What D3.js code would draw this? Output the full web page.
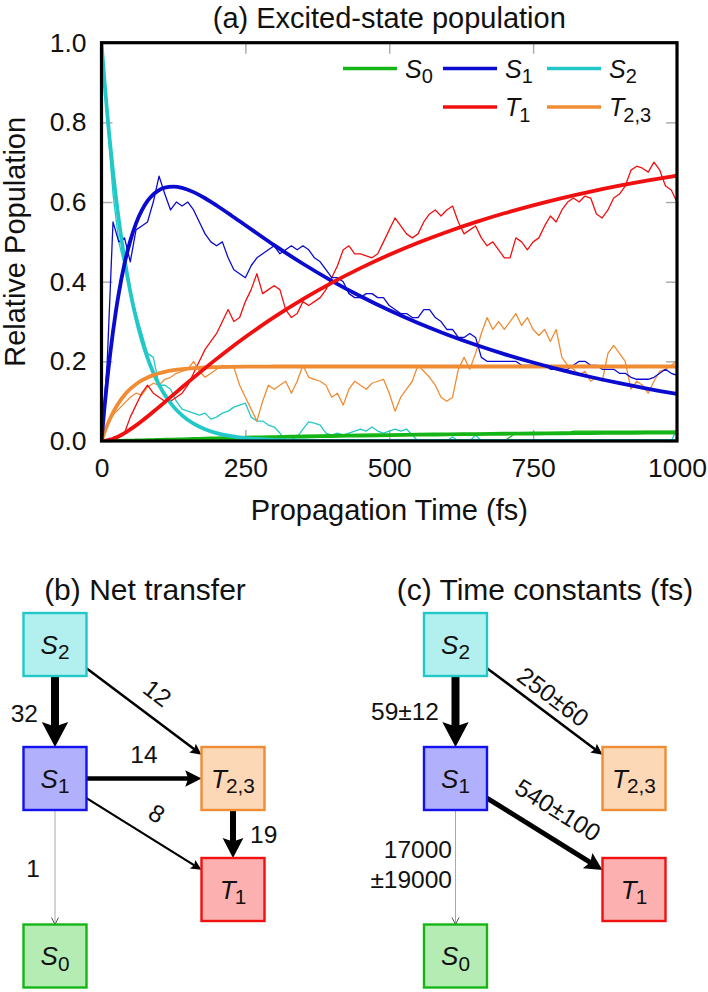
<!DOCTYPE html>
<html><head><meta charset="utf-8">
<script src="https://cdn.jsdelivr.net/npm/d3@7"></script>
<style>body{margin:0;background:#fff}svg{display:block}</style>
</head><body>
<svg id="c" width="708" height="992"></svg>
<script>
// ---------------- DATA ----------------
const xTicks = [0, 250, 500, 750, 1000];
const yTicks = [0, 0.2, 0.4, 0.6, 0.8, 1.0];
const yTickLabels = ["0.0", "0.2", "0.4", "0.6", "0.8", "1.0"];

const stateIds  = ["S0", "S1", "S2", "T1", "T23"];
const stateBase = ["S", "S", "S", "T", "T"];
const stateSub  = ["0", "1", "2", "1", "2,3"];

// raw (trajectory-averaged) populations, sampled every 10 fs
const tRaw = [0,10,20,30,40,50,60,70,80,90,100,110,120,130,140,150,160,170,180,190,200,210,220,230,240,250,260,270,280,290,300,310,320,330,340,350,360,370,380,390,400,410,420,430,440,450,460,470,480,490,500,510,520,530,540,550,560,570,580,590,600,610,620,630,640,650,660,670,680,690,700,710,720,730,740,750,760,770,780,790,800,810,820,830,840,850,860,870,880,890,900,910,920,930,940,950,960,970,980,990,1000];
const rawS0 = [0,0,0,0,0,0,0,0,0,0, 0,0,0,0,0,0,0,0,0,0, 0,0,0,0,0,0,0,0,0,0, 0,0,0,0,0,0,0,0,0,0, 0,0,0,0,0,0,0,0,0,0, 0,0,0,0,0,0,0,0,0,0, 0,0,0,0,0,0,0,0,0,0, 0,0.01,0.02,0.02,0.02,0.02,0.02,0.02,0.02,0.02, 0.02,0.02,0.025,0.025,0.025,0.025,0.025,0.025,0.025,0.025, 0.025,0.025,0.025,0.025,0.025,0.025,0.025,0.025,0.025,0.025, 0.025];
const rawS1 = [0.00,0.20,0.55,0.50,0.51,0.45,0.53,0.54,0.55,0.60,
 0.665,0.62,0.58,0.60,0.59,0.60,0.58,0.55,0.52,0.50,
 0.49,0.50,0.46,0.43,0.42,0.41,0.44,0.46,0.47,0.48,
 0.49,0.47,0.48,0.49,0.48,0.49,0.48,0.46,0.45,0.43,
 0.41,0.41,0.40,0.37,0.36,0.36,0.37,0.37,0.36,0.36,
 0.34,0.33,0.32,0.32,0.31,0.31,0.33,0.33,0.31,0.30,
 0.28,0.28,0.26,0.26,0.27,0.26,0.21,0.20,0.20,0.20,
 0.20,0.20,0.20,0.19,0.19,0.19,0.19,0.19,0.18,0.18,
 0.18,0.18,0.19,0.20,0.20,0.19,0.19,0.18,0.18,0.18,
 0.17,0.17,0.16,0.155,0.155,0.155,0.16,0.17,0.18,0.17,
 0.165];
const rawS2 = [1.0,0.80,0.62,0.50,0.44,0.38,0.32,0.27,0.22,0.21,
 0.14,0.14,0.13,0.10,0.08,0.075,0.07,0.065,0.07,0.055,
 0.06,0.07,0.075,0.085,0.09,0.095,0.06,0.05,0.05,0.04,
 0.035,0.02,0.0,0.005,0.01,0.03,0.048,0.045,0.04,0.02,
 0.015,0.02,0.015,0.02,0.025,0.03,0.025,0.035,0.025,0.02,
 0.025,0.03,0.025,0.03,0.015,0.0,0,0,0,0,
 0,0.01,0,0,0,0.015,0,0,0,0,
 0,0,0,0,0,0,0,0,0,0,
 0,0,0,0,0,0,0,0,0,0,
 0,0,0,0,0,0,0,0,0,0,
 0.03];
const rawT1 = [0,0,0,0.01,0.02,0.06,0.09,0.12,0.14,0.12,
 0.11,0.10,0.10,0.11,0.12,0.14,0.17,0.20,0.23,0.25,
 0.27,0.30,0.33,0.30,0.31,0.35,0.38,0.42,0.37,0.38,
 0.39,0.38,0.33,0.31,0.32,0.35,0.34,0.35,0.36,0.38,
 0.41,0.44,0.48,0.49,0.47,0.47,0.465,0.46,0.47,0.50,
 0.53,0.56,0.54,0.52,0.51,0.52,0.55,0.57,0.58,0.565,
 0.58,0.59,0.55,0.52,0.53,0.54,0.51,0.49,0.50,0.48,
 0.46,0.46,0.51,0.50,0.48,0.50,0.51,0.54,0.565,0.55,
 0.58,0.60,0.61,0.60,0.615,0.61,0.57,0.56,0.58,0.61,
 0.62,0.64,0.68,0.69,0.685,0.675,0.70,0.68,0.64,0.63,
 0.60];
const rawT23 = [0,0.04,0.065,0.08,0.095,0.11,0.12,0.115,0.135,0.145,
 0.14,0.155,0.16,0.17,0.175,0.18,0.20,0.175,0.16,0.17,
 0.18,0.19,0.185,0.185,0.14,0.11,0.08,0.05,0.10,0.14,
 0.13,0.14,0.15,0.12,0.15,0.19,0.16,0.155,0.15,0.14,
 0.11,0.12,0.09,0.13,0.15,0.14,0.13,0.145,0.15,0.155,
 0.12,0.075,0.11,0.13,0.15,0.19,0.175,0.16,0.14,0.11,
 0.10,0.11,0.18,0.21,0.18,0.22,0.27,0.31,0.28,0.30,
 0.28,0.30,0.32,0.29,0.31,0.28,0.265,0.28,0.25,0.28,
 0.21,0.19,0.18,0.165,0.175,0.15,0.16,0.15,0.22,0.24,
 0.22,0.20,0.13,0.15,0.14,0.12,0.15,0.175,0.18,0.19,
 0.20];

// kinetic-model fits
const tFit = [0,5,10,15,20,25,30,40,50,60,70,80,90,100,110,125,140,160,180,200,225,250,275,300,350,400,450,500,550,600,650,700,750,800,850,900,950,1000];
const fitS0 = [0,0,0,0.0001,0.0002,0.0003,0.0004,0.0006,0.0009,0.0012,0.0016,0.0020,0.0023,0.0027,0.0031,0.0037,0.0043,0.0051,0.0058,0.0066,0.0074,0.0083,0.0091,0.0099,0.0113,0.0126,0.0138,0.0149,0.0158,0.0167,0.0175,0.0182,0.0188,0.0194,0.0199,0.0204,0.0208,0.0212];
const fitS1 = [0,0.0813,0.1536,0.2180,0.2751,0.3257,0.3706,0.4450,0.5025,0.5463,0.5790,0.6028,0.6192,0.6301,0.6363,0.6388,0.6355,0.6248,0.6095,0.5913,0.5669,0.5416,0.5165,0.4917,0.4450,0.4022,0.3633,0.3281,0.2963,0.2676,0.2416,0.2182,0.1971,0.1779,0.1607,0.1451,0.1310,0.1183];
const fitS2 = [1,0.9066,0.8220,0.7453,0.6757,0.6126,0.5554,0.4566,0.3753,0.3085,0.2536,0.2085,0.1714,0.1409,0.1158,0.0863,0.0643,0.0434,0.0294,0.0198,0.0122,0.0074,0.0046,0.0028,0.0010,0.0004,0.0001,0,0,0,0,0,0,0,0,0,0,0];
const fitT1 = [0,0.0004,0.0015,0.0033,0.0058,0.0087,0.0120,0.0200,0.0291,0.0392,0.0502,0.0615,0.0734,0.0855,0.0977,0.1163,0.1348,0.1591,0.1830,0.2062,0.2342,0.2610,0.2866,0.3110,0.3562,0.3971,0.4341,0.4675,0.4977,0.5249,0.5494,0.5717,0.5917,0.6099,0.6262,0.6410,0.6543,0.6663];
const fitT23 = [0,0.0211,0.0399,0.0565,0.0713,0.0844,0.0960,0.1154,0.1307,0.1427,0.1521,0.1596,0.1654,0.1700,0.1737,0.1777,0.1805,0.1830,0.1845,0.1855,0.1862,0.1865,0.1867,0.187,0.187,0.187,0.187,0.187,0.187,0.187,0.187,0.187,0.187,0.187,0.187,0.187,0.187,0.187];

// kinetic scheme
const nodeIds  = ["S2", "S1", "T23", "T1", "S0"];
const nodeBase = ["S", "S", "T", "T", "S"];
const nodeSub  = ["2", "1", "2,3", "1", "0"];
const netFrom  = ["S2", "S2", "S1", "S1", "T23", "S1"];
const netTo    = ["S1", "T23", "T23", "T1", "T1", "S0"];
const netValue = [["32"], ["12"], ["14"], ["8"], ["19"], ["1"]];
const tcFrom   = ["S2", "S2", "S1", "S1"];
const tcTo     = ["S1", "T23", "T1", "S0"];
const tcValue  = [["59\u00b112"], ["250\u00b160"], ["540\u00b1100"], ["17000", "\u00b119000"]];

// ---------------- STYLE / LAYOUT ----------------
const FONT = "'Liberation Sans', Arial, Helvetica, sans-serif";
const color = {S0: "#16b516", S1: "#0b0bcf", S2: "#22c8c8", T1: "#f01010", T23: "#f08c34"};
const fill  = {S0: "#b4ecb4", S1: "#b0b0fc", S2: "#b2f0f0", T1: "#fdb0b0", T23: "#fcd8b6"};
const stroke = {S0: "#16b516", S1: "#1212ee", S2: "#22c8c8", T1: "#f01010", T23: "#f08c34"};

const svg = d3.select("#c");
const W = 708, H = 992;
svg.append("rect").attr("width", W).attr("height", H).attr("fill", "#fff");

const L = 101.5, R = 677, T = 42.7, B = 441;
const x = d3.scaleLinear().domain([0, 1000]).range([L, R]);
const y = d3.scaleLinear().domain([0, 1]).range([B, T]);

// title
svg.append("text").attr("x", (L + R) / 2).attr("y", 28).attr("text-anchor", "middle")
  .attr("font-family", FONT).attr("font-size", 29).attr("fill", "#111")
  .text("(a) Excited-state population");

// clip
svg.append("defs").append("clipPath").attr("id", "clip")
  .append("rect").attr("x", L).attr("y", T).attr("width", R - L).attr("height", B - T);

// ticks (gray, inward)
const tickStyle = g => {
  g.select(".domain").remove();
  g.selectAll(".tick line").attr("stroke", "#a8a8a8").attr("stroke-width", 1.4);
  g.selectAll(".tick text").attr("font-family", FONT).attr("font-size", 26.5).attr("fill", "#111");
};
svg.append("g").attr("transform", `translate(0,${B})`)
  .call(d3.axisBottom(x).tickValues(xTicks).tickSize(-11).tickPadding(17).tickFormat(d3.format("d")))
  .call(tickStyle);
svg.append("g").attr("transform", `translate(0,${T})`)
  .call(d3.axisTop(x).tickValues(xTicks).tickSize(-11).tickFormat(""))
  .call(tickStyle);
svg.append("g").attr("transform", `translate(${L},0)`)
  .call(d3.axisLeft(y).tickValues(yTicks).tickSize(-11).tickPadding(15).tickFormat((d, i) => yTickLabels[i]))
  .call(tickStyle);
svg.append("g").attr("transform", `translate(${R},0)`)
  .call(d3.axisRight(y).tickValues(yTicks).tickSize(-11).tickFormat(""))
  .call(tickStyle);

// axis titles
svg.append("text").attr("x", (L + R) / 2).attr("y", 520).attr("text-anchor", "middle")
  .attr("font-family", FONT).attr("font-size", 29).attr("fill", "#111").text("Propagation Time (fs)");
svg.append("text").attr("transform", `translate(25,${(T + B) / 2}) rotate(-90)`).attr("text-anchor", "middle")
  .attr("font-family", FONT).attr("font-size", 29).attr("fill", "#111").text("Relative Population");

// lines
const plot = svg.append("g").attr("clip-path", "url(#clip)");
const rawSeries = {S0: rawS0, S1: rawS1, S2: rawS2, T1: rawT1, T23: rawT23};
const fitSeries = {S0: fitS0, S1: fitS1, S2: fitS2, T1: fitT1, T23: fitT23};
const rawLine = d3.line().x((d, i) => x(tRaw[i])).y(d => y(d));
const fitLine = d3.line().x((d, i) => x(tFit[i])).y(d => y(d)).curve(d3.curveMonotoneX);
["S0", "S2", "T23", "T1", "S1"].forEach(id => {
  plot.append("path").attr("d", rawLine(rawSeries[id])).attr("fill", "none")
    .attr("stroke", color[id]).attr("stroke-width", 1.3).attr("stroke-linejoin", "round");
});
["S0", "S2", "T23", "S1", "T1"].forEach(id => {
  plot.append("path").attr("d", fitLine(fitSeries[id])).attr("fill", "none")
    .attr("stroke", color[id]).attr("stroke-width", 3.8).attr("stroke-linejoin", "round");
});

// frame
svg.append("rect").attr("x", L).attr("y", T).attr("width", R - L).attr("height", B - T)
  .attr("fill", "none").attr("stroke", "#000").attr("stroke-width", 3.2);

// helper for italic symbol with subscript
function symbol(sel, base, sub, size) {
  sel.append("tspan").attr("font-style", "italic").attr("font-size", size).text(base);
  sel.append("tspan").attr("font-size", size * 0.8).attr("dy", size * 0.22).attr("dx", base === "T" ? -1 : 0).text(sub);
}

// legend
const legCols = [343, 443, 547], legRows = [68.5, 107];
const legPos = {S0: [0, 0], S1: [0, 1], S2: [0, 2], T1: [1, 1], T23: [1, 2]};
stateIds.forEach((id, i) => {
  const [r, c] = legPos[id];
  const lx = legCols[c], ly = legRows[r];
  svg.append("line").attr("x1", lx).attr("x2", lx + 54).attr("y1", ly).attr("y2", ly)
    .attr("stroke", color[id]).attr("stroke-width", 3.6);
  const t = svg.append("text").attr("x", lx + 62).attr("y", ly + 9)
    .attr("font-family", FONT).attr("fill", "#111");
  symbol(t, stateBase[i], stateSub[i], 25);
});

// ---------------- Kinetic schemes ----------------
const half = 31.5;
const rowY = {S2: 644.5, S1: 778.5, T23: 778.5, T1: 889.5, S0: 956};
const colOf = {S2: 0, S1: 0, S0: 0, T23: 1, T1: 1};

function drawPanel(title, titleX, cols, from, to, values, edgeStyle) {
  const g = svg.append("g");
  g.append("text").attr("x", titleX).attr("y", 600).attr("text-anchor", "middle")
    .attr("font-family", FONT).attr("font-size", 30).attr("fill", "#111").text(title);
  const pos = id => [cols[colOf[id]], rowY[id]];
  // edges
  from.forEach((f, i) => {
    const tId = to[i], st = edgeStyle[f + "-" + tId];
    const c0 = pos(f), c1 = pos(tId);
    const dx = c1[0] - c0[0], dy = c1[1] - c0[1], len = Math.hypot(dx, dy);
    const ux = dx / len, uy = dy / len;
    const tb = Math.min(Math.abs(ux) > 1e-9 ? half / Math.abs(ux) : 1e9, Math.abs(uy) > 1e-9 ? half / Math.abs(uy) : 1e9);
    const p0 = [c0[0] + ux * tb, c0[1] + uy * tb];
    const p1 = [c1[0] - ux * tb, c1[1] - uy * tb];
    const w = st.w, col = st.gray ? "#aaaaaa" : "#000";
    const nx = uy, ny = -ux;
    if (st.gray) {
      g.append("line").attr("x1", p0[0]).attr("y1", p0[1]).attr("x2", p1[0]).attr("y2", p1[1])
        .attr("stroke", col).attr("stroke-width", w);
      const hl = 7, hw = 3.5;
      const b = [p1[0] - ux * hl, p1[1] - uy * hl];
      g.append("path").attr("d", `M${b[0] + nx * hw},${b[1] + ny * hw}L${p1[0]},${p1[1]}L${b[0] - nx * hw},${b[1] - ny * hw}`)
        .attr("fill", "none").attr("stroke", "#555").attr("stroke-width", 1);
    } else {
      const hl = 5 + 2.5 * w, hw = (4 + 2.8 * w) / 2;
      const s = [p1[0] - ux * hl * 0.8, p1[1] - uy * hl * 0.8];
      g.append("line").attr("x1", p0[0]).attr("y1", p0[1]).attr("x2", s[0]).attr("y2", s[1])
        .attr("stroke", col).attr("stroke-width", w);
      const b = [p1[0] - ux * hl, p1[1] - uy * hl];
      const notch = [p1[0] - ux * hl * 0.82, p1[1] - uy * hl * 0.82];
      g.append("path").attr("d", `M${p1[0]},${p1[1]}L${b[0] + nx * hw},${b[1] + ny * hw}L${notch[0]},${notch[1]}L${b[0] - nx * hw},${b[1] - ny * hw}Z`)
        .attr("fill", col);
    }
    // label
    const lb = st.label, lines = values[i];
    if (lb.rot) {
      const px = c0[0] + ux * lb.along + nx * lb.perp, py = c0[1] + uy * lb.along + ny * lb.perp;
      const ang = Math.atan2(dy, dx) * 180 / Math.PI;
      g.append("text").attr("transform", `translate(${px},${py}) rotate(${ang})`)
        .attr("text-anchor", "middle").attr("dy", "0.36em")
        .attr("font-family", FONT).attr("font-size", 24.5).attr("fill", "#111").text(lines[0]);
    } else {
      lines.forEach((ln, k) => {
        g.append("text").attr("x", lb.x).attr("y", lb.y + k * 30).attr("text-anchor", lb.anchor)
          .attr("font-family", FONT).attr("font-size", 24.5).attr("fill", "#111").text(ln);
      });
    }
  });
  // boxes
  nodeIds.forEach((id, i) => {
    const [cx, cy] = pos(id);
    g.append("rect").attr("x", cx - half).attr("y", cy - half).attr("width", 2 * half).attr("height", 2 * half)
      .attr("fill", fill[id]).attr("stroke", stroke[id]).attr("stroke-width", 2.4);
    const t = g.append("text").attr("x", cx).attr("y", cy + 9).attr("text-anchor", "middle")
      .attr("font-family", FONT).attr("fill", "#111");
    symbol(t, nodeBase[i], nodeSub[i], 26);
  });
}

drawPanel("(b) Net transfer", 145, [55, 233], netFrom, netTo, netValue, {
  "S2-S1":  {w: 8,   label: {x: 38, y: 722, anchor: "end"}},
  "S2-T23": {w: 2.5, label: {rot: true, along: 111, perp: 23}},
  "S1-T23": {w: 4.5, label: {x: 144, y: 763, anchor: "middle"}},
  "S1-T1":  {w: 2.2, label: {rot: true, along: 105, perp: 24.5}},
  "T23-T1": {w: 6,   label: {x: 250, y: 843, anchor: "start"}},
  "S1-S0":  {w: 1, gray: true, label: {x: 33, y: 877, anchor: "middle"}}
});
drawPanel("(c) Time constants (fs)", 545, [455.5, 634], tcFrom, tcTo, tcValue, {
  "S2-S1":  {w: 8,   label: {x: 439, y: 720, anchor: "end"}},
  "S2-T23": {w: 2.5, label: {rot: true, along: 109.5, perp: 17}},
  "S1-T1":  {w: 5,   label: {rot: true, along: 103.6, perp: 27.5}},
  "S1-S0":  {w: 1, gray: true, label: {x: 452, y: 858, anchor: "end"}}
});
</script>
</body></html>
